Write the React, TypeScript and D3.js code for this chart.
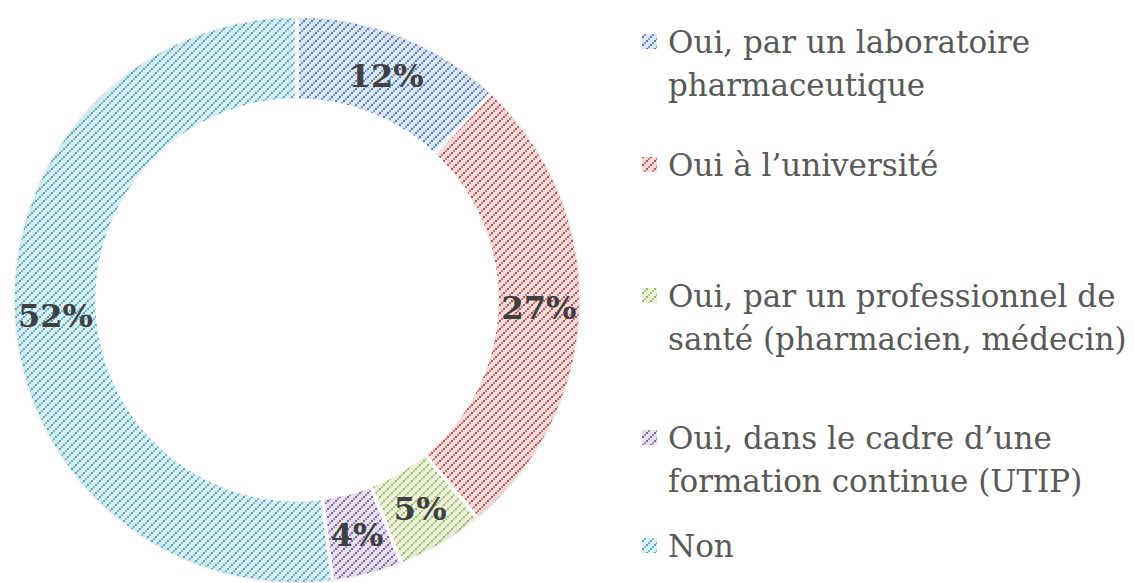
import React, { useEffect, useRef } from 'react';
import * as d3 from 'd3';

const categories = [
  ['Oui, par un laboratoire', 'pharmaceutique'],
  ['Oui à l\u2019université'],
  ['Oui, par un professionnel de', 'santé (pharmacien, médecin)'],
  ['Oui, dans le cadre d\u2019une', 'formation continue (UTIP)'],
  ['Non'],
];
const values = [12, 27, 5, 4, 52];
const lineColors = ['#4F81BD', '#C0504D', '#9BBB59', '#8064A2', '#4BACC6'];
const fillColors = ['#dce6f2', '#f2dcdb', '#ebf1de', '#e5e0ec', '#daeef3'];
const legendBaselines = [53, 176, 307, 449, 557];

const App = () => {
  const ref = useRef<SVGSVGElement>(null);

  useEffect(() => {
    const svg = d3.select(ref.current);
    svg.selectAll('*').remove();

    const cx = 297;
    const cy = 300;
    const outer = 284;
    const inner = 200;
    const tile = 8;

    const defs = svg.append('defs');
    lineColors.forEach((c, i) => {
      const p = defs.append('pattern')
        .attr('id', `hatch${i}`)
        .attr('patternUnits', 'userSpaceOnUse')
        .attr('width', tile)
        .attr('height', tile);
      p.append('rect').attr('width', tile).attr('height', tile).attr('fill', fillColors[i]);
      // staircase of small squares going up to the right
      d3.range(0, tile, 2).forEach(k => {
        p.append('rect')
          .attr('x', tile - 2 - k).attr('y', k)
          .attr('width', 2).attr('height', 2)
          .attr('fill', c)
          .attr('opacity', k % 4 === 0 ? 1 : 0.7);
      });
    });

    // soft edge shading like the original
    const grad = defs.append('radialGradient')
      .attr('id', 'shade')
      .attr('gradientUnits', 'userSpaceOnUse')
      .attr('cx', 0).attr('cy', 0).attr('r', outer);
    grad.append('stop').attr('offset', inner / outer).attr('stop-color', '#fff').attr('stop-opacity', 0);
    grad.append('stop').attr('offset', (outer - 12) / outer).attr('stop-color', '#fff').attr('stop-opacity', 0);
    grad.append('stop').attr('offset', 1).attr('stop-color', '#000').attr('stop-opacity', 0.05);

    const pie = d3.pie<number>().sort(null).value(d => d);
    const arcs = pie(values);
    const arc = d3.arc<d3.PieArcDatum<number>>().innerRadius(inner).outerRadius(outer);

    const g = svg.append('g').attr('transform', `translate(${cx},${cy})`);

    g.selectAll('path.slice')
      .data(arcs)
      .enter().append('path')
      .attr('class', 'slice')
      .attr('d', arc)
      .attr('fill', (d, i) => `url(#hatch${i})`)
      .attr('stroke', '#fff')
      .attr('stroke-width', 3.5);

    g.selectAll('path.shade')
      .data(arcs)
      .enter().append('path')
      .attr('class', 'shade')
      .attr('d', arc)
      .attr('fill', 'url(#shade)');

    g.selectAll('text.lbl')
      .data(arcs)
      .enter().append('text')
      .attr('class', 'lbl')
      .attr('transform', d => `translate(${arc.centroid(d)})`)
      .attr('text-anchor', 'middle')
      .attr('dy', '0.36em')
      .style('font-family', 'DejaVu Serif')
      .style('font-weight', 'bold')
      .style('font-size', '32px')
      .style('fill', '#404040')
      .text(d => `${d.data}%`);

    const legend = svg.append('g');
    categories.forEach((lines, i) => {
      const y = legendBaselines[i];
      legend.append('rect')
        .attr('x', 642).attr('y', y - 19)
        .attr('width', 15).attr('height', 15)
        .attr('fill', `url(#hatch${i})`);
      lines.forEach((t, j) => {
        legend.append('text')
          .attr('x', 668)
          .attr('y', y + j * 43)
          .style('font-family', 'DejaVu Serif')
          .style('font-size', '31px')
          .style('fill', '#595959')
          .text(t);
      });
    });
  }, []);

  return (
    <svg ref={ref} width={1134} height={583}
      style={{ position: 'absolute', left: 0, top: 0, background: '#fff' }} />
  );
};

export default App;
